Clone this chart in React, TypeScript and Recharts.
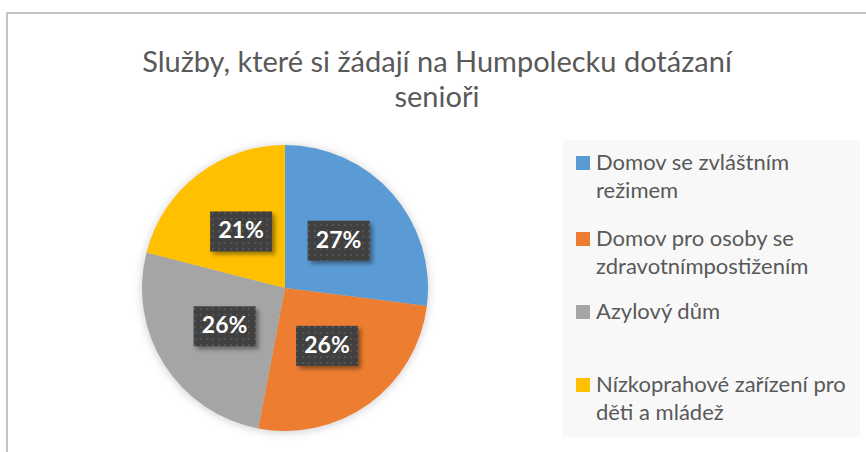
import React from "react";
import { PieChart, Pie, Cell, Legend } from "recharts";

const categories = [
  "Domov se zvláštním režimem",
  "Domov pro osoby se zdravotnímpostižením",
  "Azylový dům",
  "Nízkoprahové zařízení pro děti a mládež",
];
const shares = [27, 26, 26, 21];
const legendLines = [
  ["Domov se zvláštním", "režimem"],
  ["Domov pro osoby se", "zdravotnímpostižením"],
  ["Azylový dům", ""],
  ["Nízkoprahové zařízení pro", "děti a mládež"],
];
const colors = ["#5B9BD5", "#ED7D31", "#A5A5A5", "#FFC000"];
const titleLines = ["Služby, které si žádají na Humpolecku dotázaní", "senioři"];

const data = categories.map((name, i) => ({ name, value: shares[i] }));

const FONT = "Lato, Carlito, 'Open Sans', sans-serif";
const RADIAN = Math.PI / 180;

function renderLabel(props: any) {
  const { cx, cy, midAngle, outerRadius, value } = props;
  const r = outerRadius * 0.5;
  const x = cx + r * Math.cos(-midAngle * RADIAN);
  const y = cy + r * Math.sin(-midAngle * RADIAN);
  const w = 62;
  const h = 40;
  return (
    <g>
      <rect
        x={x - w / 2}
        y={y - h / 2}
        width={w}
        height={h}
        fill="url(#dotPattern)"
        filter="url(#labelShadow)"
      />
      <text
        x={x}
        y={y + 1}
        textAnchor="middle"
        dominantBaseline="middle"
        fill="#ffffff"
        fontFamily={FONT}
        fontWeight={700}
        fontSize={23}
      >
        {value}%
      </text>
    </g>
  );
}

function renderLegend() {
  return (
    <div
      style={{
        width: 297,
        height: 297,
        background: "#F8F8F8",
        boxSizing: "border-box",
        paddingTop: 8,
        paddingLeft: 13,
        fontFamily: FONT,
        fontSize: 22,
        color: "#595959",
        whiteSpace: "nowrap",
      }}
    >
      {legendLines.map((lines, i) => (
        <div key={i} style={{ display: "flex", height: i === 0 ? 76 : 73 }}>
          <div
            style={{
              width: 14,
              height: 14,
              background: colors[i],
              marginTop: 8,
              marginRight: 6,
              flexShrink: 0,
            }}
          />
          <div style={{ lineHeight: "28px" }}>
            <div>{lines[0]}</div>
            <div>{lines[1] || "\u00a0"}</div>
          </div>
        </div>
      ))}
    </div>
  );
}

export default function App() {
  return (
    <div
      style={{
        position: "absolute",
        left: 0,
        top: 0,
        width: 866,
        height: 452,
        background: "#ffffff",
        overflow: "hidden",
      }}
    >
      <style>{`.recharts-pie { filter: drop-shadow(0px 1px 5px rgba(0,0,0,0.2)); }`}</style>
      <svg width={0} height={0} style={{ position: "absolute" }}>
        <defs>
          <pattern id="dotPattern" width={6} height={6} patternUnits="userSpaceOnUse">
            <rect width={6} height={6} fill="#3f3f3f" />
            <circle cx={3} cy={3} r={1} fill="#5a5a5a" />
          </pattern>
          <filter id="labelShadow" x="-30%" y="-30%" width="160%" height="160%">
            <feDropShadow dx={3} dy={3} stdDeviation={2} floodColor="#000" floodOpacity={0.4} />
          </filter>
        </defs>
      </svg>
      <div
        style={{
          position: "absolute",
          left: 6,
          top: 12,
          width: 900,
          height: 500,
          border: "2px solid #C4C4C4",
          boxSizing: "border-box",
        }}
      />
      <div
        style={{
          position: "absolute",
          left: 0,
          top: 43,
          width: 874,
          textAlign: "center",
          fontFamily: FONT,
          fontSize: 29,
          lineHeight: "35px",
          color: "#595959",
        }}
      >
        {titleLines.map((t, i) => (
          <div key={i}>{t}</div>
        ))}
      </div>
      <div style={{ position: "absolute", left: 0, top: 0 }}>
        <PieChart width={866} height={452}>
          <Pie
            data={data}
            dataKey="value"
            nameKey="name"
            cx={280}
            cy={283}
            outerRadius={143}
            startAngle={90}
            endAngle={-270}
            stroke="none"
            label={renderLabel}
            labelLine={false}
            isAnimationActive={false}
          >
            {data.map((d, i) => (
              <Cell key={d.name} fill={colors[i]} />
            ))}
          </Pie>
          <Legend
            content={renderLegend}
            wrapperStyle={{ position: "absolute", left: 563, top: 140, width: 297, height: 297 }}
          />
        </PieChart>
      </div>
    </div>
  );
}
